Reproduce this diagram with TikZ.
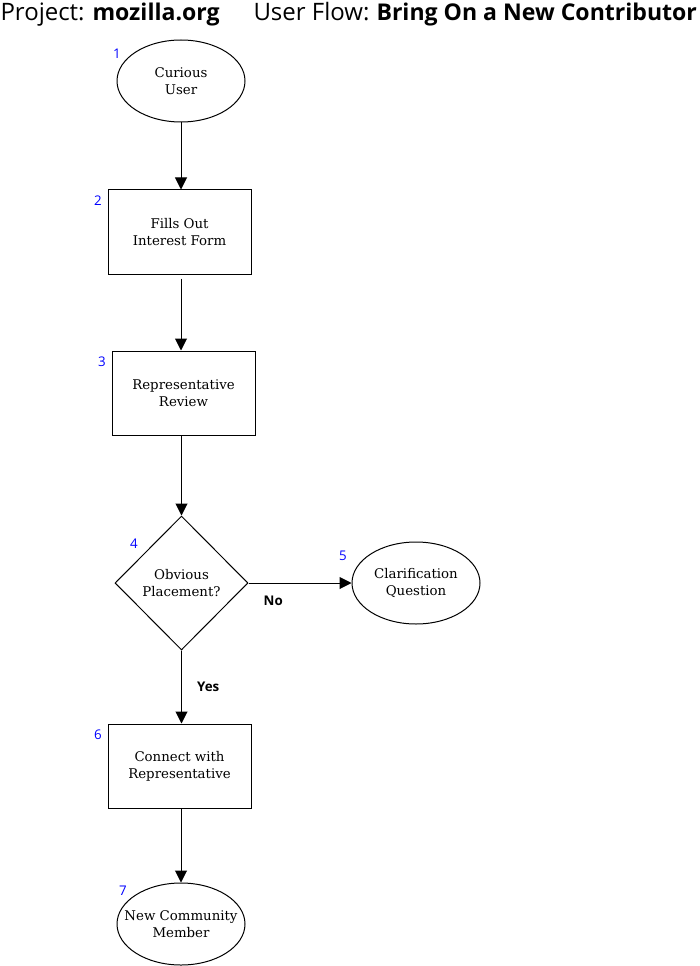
\documentclass[tikz,border=0pt]{standalone}
\usepackage{fontspec}
\setmainfont{DejaVu Serif}
\newfontfamily\headfont{Open Sans}
\usetikzlibrary{shapes.geometric,arrows.meta}

\begin{document}
\begin{tikzpicture}[x=0.75pt,y=-0.75pt,line width=0.75pt,
  every node/.style={font=\fontsize{10}{12.75}\selectfont, align=center},
  oval/.style={draw, ellipse, inner xsep=-9pt, minimum width=96pt, minimum height=61.5pt},
  flowbox/.style={draw, rectangle, minimum width=107.25pt, minimum height=63pt},
  decision/.style={draw, diamond, aspect=1, minimum width=99.75pt, minimum height=100.5pt, inner sep=0pt},
  num/.style={text=blue, font=\headfont\fontsize{10}{11}\selectfont},
  answer/.style={font=\headfont\bfseries\fontsize{10}{11}\selectfont},
  title/.style={anchor=base west, inner sep=0pt, font=\headfont\fontsize{18}{22}\selectfont},
  titlebold/.style={title, font=\headfont\bfseries\fontsize{17.3}{22}\selectfont},
  flow/.style={-{Triangle[length=9pt,width=9pt]}}]
\useasboundingbox (0,0) rectangle (699,966);

% heading
\node[title] (proj) at (0,21) {Project:};
\node[titlebold] (projname) at (92,21) {mozilla.org};
\node[title] (uf) at (253,21) {User Flow:};
\node[titlebold] (ufname) at (376,21) {Bring On a New Contributor};

% steps
\node[oval] (user) at (181,81) {Curious\\User};
\node[flowbox] (form) at (179.5,232) {Fills Out\\Interest Form};
\node[flowbox] (review) at (183.5,393) {Representative\\Review};
\node[decision] (place) at (181.5,583) {Obvious\\Placement?};
\node[oval] (clarify) at (416,583) {Clarification\\Question};
\node[flowbox] (connect) at (179.5,766) {Connect with\\Representative};
\node[oval] (member) at (181,924) {New Community\\Member};

% step numbers
\node[num] (num1) at (117,54) {1};
\node[num] (num2) at (98,201) {2};
\node[num] (num3) at (102,362) {3};
\node[num] (num4) at (134,544) {4};
\node[num] (num5) at (343,556) {5};
\node[num] (num6) at (98,735) {6};
\node[num] (num7) at (123,891) {7};

% connectors
\draw [flow] (user) -- (user|-form.north);
\draw [flow, shorten <=3pt] (form.south-|user) -- (user|-review.north);
\draw [flow] (review.south-|place) -- (place.north);
\draw [flow] (place.east) -- node[answer, below=6pt, pos=0.24]{No} (place.east-|clarify.west);
\draw [flow] (place.south) -- node[answer, right, xshift=8pt]{Yes} (place.south|-connect.north);
\draw [flow] (connect.south-|user) -- (member.north);
\end{tikzpicture}
\end{document}
